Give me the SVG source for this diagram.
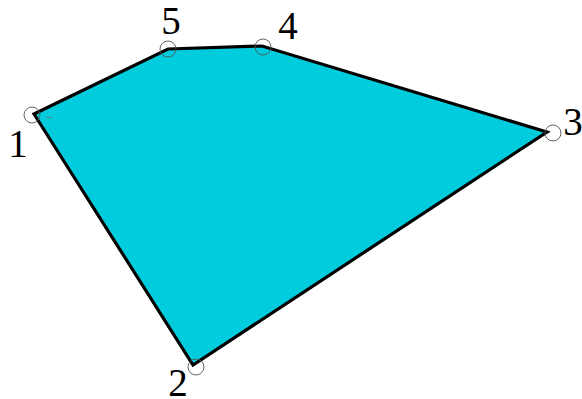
<svg xmlns="http://www.w3.org/2000/svg" width="582" height="399" viewBox="0 0 582 399">
<style>
.lbl{font-family:"Liberation Serif","Times New Roman",serif;font-size:39px;fill:#000;text-anchor:middle}
.vc{fill:none;stroke:#555;stroke-width:0.9}
</style>
<rect width="582" height="399" fill="#fff"/>
<g id="shape">
<polygon points="34,114 193,365 547,132 262,46 168,49" fill="#00CCDD" stroke="#000" stroke-width="3.2" stroke-linejoin="miter"/>
</g>
<g id="v1"><circle class="vc" cx="32" cy="115" r="8"/><line x1="46" y1="117.5" x2="52" y2="117.5" stroke="#777" stroke-width="0.8"/><text class="lbl" x="18" y="157">1</text></g>
<g id="v2"><circle class="vc" cx="196" cy="367" r="8"/><text class="lbl" x="178" y="396">2</text></g>
<g id="v3"><circle class="vc" cx="553" cy="133" r="8"/><text class="lbl" x="573" y="135">3</text></g>
<g id="v4"><circle class="vc" cx="263" cy="47" r="8"/><text class="lbl" x="288" y="39">4</text></g>
<g id="v5"><circle class="vc" cx="168" cy="49" r="8"/><text class="lbl" x="171" y="34">5</text></g>
</svg>
